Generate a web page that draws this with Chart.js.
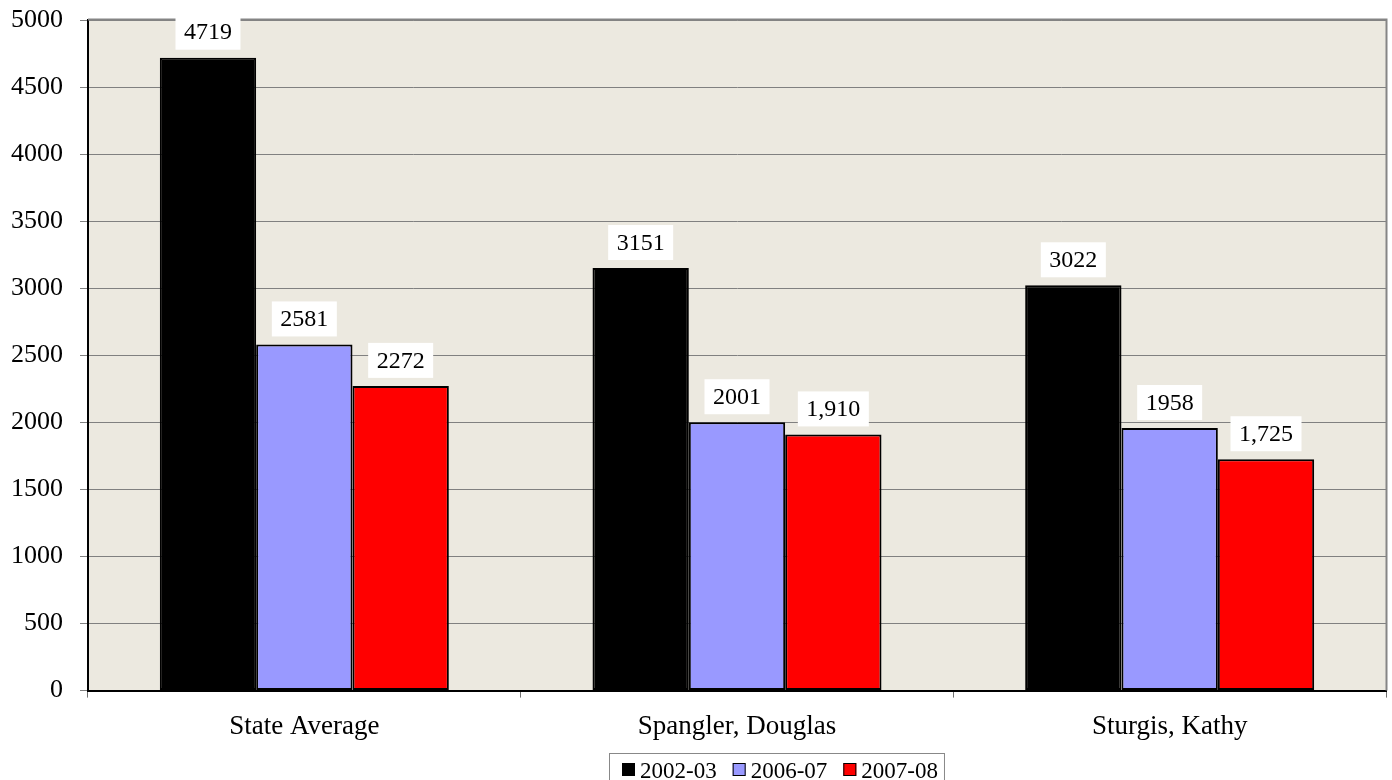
<!DOCTYPE html>
<html>
<head>
<meta charset="utf-8">
<title>Caseload by year</title>
<script src="https://cdn.jsdelivr.net/npm/chart.js@4/dist/chart.umd.min.js"></script>
<style>
    html, body { margin: 0; padding: 0; background: #fff; }
    #wrap { width: 1392px; height: 780px; }
</style>
</head>
<body>
<div id="wrap"><canvas id="yearChart" width="1392" height="780"></canvas></div>
<script>
const categories = ['State Average', 'Spangler, Douglas', 'Sturgis, Kathy'];
const seriesNames = ['2002-03', '2006-07', '2007-08'];
const seriesColors = ['#000000', '#9999FF', '#FF0000'];

const values0203 = [4719, 3151, 3022];
const values0607 = [2581, 2001, 1958];
const values0708 = [2272, 1910, 1725];

// which value labels print with a thousands separator
const commas0203 = [false, false, false];
const commas0607 = [false, false, false];
const commas0708 = [false, true, true];

const yTicks = [0, 500, 1000, 1500, 2000, 2500, 3000, 3500, 4000, 4500, 5000];

const serif = '"Liberation Serif", "Times New Roman", serif';

function makeDataset(i, values, commas) {
    return {
        label: seriesNames[i],
        data: values,
        commas: commas,
        backgroundColor: seriesColors[i],
        borderColor: '#000',
        borderWidth: 2,
        borderSkipped: false,
        barPercentage: 1,
        categoryPercentage: 0.668
    };
}

// plot background plus the grey frame on top and right
const plotFrame = {
    id: 'plotFrame',
    beforeDraw(chart) {
        const a = chart.chartArea;
        const ctx = chart.ctx;
        ctx.save();
        ctx.fillStyle = '#ECE9E0';
        ctx.fillRect(a.left, a.top, a.right - a.left, a.bottom - a.top);
        ctx.restore();
    },
    beforeDatasetsDraw(chart) {
        const a = chart.chartArea;
        const ctx = chart.ctx;
        ctx.save();
        ctx.strokeStyle = '#858585';
        ctx.lineWidth = 2;
        ctx.beginPath();
        ctx.moveTo(a.left, a.top - 0.5);
        ctx.lineTo(a.right + 0.5, a.top - 0.5);
        ctx.lineTo(a.right + 0.5, a.bottom);
        ctx.stroke();
        ctx.restore();
    }
};

// white boxed value labels above each bar
const valueBoxes = {
    id: 'valueBoxes',
    afterDatasetsDraw(chart) {
        const ctx = chart.ctx;
        ctx.save();
        ctx.font = '24px ' + serif;
        ctx.textAlign = 'center';
        ctx.textBaseline = 'middle';
        chart.data.datasets.forEach((ds, di) => {
            chart.getDatasetMeta(di).data.forEach((bar, i) => {
                const v = ds.data[i];
                const text = ds.commas[i] ? v.toLocaleString('en-US') : String(v);
                const w = ctx.measureText(text).width + 17;
                const h = 35;
                const bottom = bar.y - 8;
                ctx.fillStyle = '#fff';
                ctx.fillRect(bar.x - w / 2, bottom - h, w, h);
                ctx.fillStyle = '#000';
                ctx.fillText(text, bar.x, bottom - h / 2 + 1);
            });
        });
        ctx.restore();
    }
};

// boxed legend under the category labels
const boxLegend = {
    id: 'boxLegend',
    afterDraw(chart) {
        const ctx = chart.ctx;
        const left = 609, top = 753, h = 34;
        const mark = 13, markGap = 5, itemGap = 16;
        ctx.save();
        ctx.font = '23px ' + serif;
        ctx.textBaseline = 'alphabetic';
        let x = left + 13;
        const items = chart.data.datasets.map(ds => {
            const tw = ctx.measureText(ds.label).width;
            const it = { ds, x, tw };
            x += mark + markGap + tw + itemGap;
            return it;
        });
        const right = x - itemGap + 6;
        ctx.fillStyle = '#fff';
        ctx.fillRect(left, top, right - left, h);
        ctx.strokeStyle = '#888';
        ctx.lineWidth = 1;
        ctx.strokeRect(left + 0.5, top + 0.5, right - left, h);
        items.forEach(it => {
            ctx.fillStyle = it.ds.backgroundColor;
            ctx.fillRect(it.x, top + 10, mark, mark);
            ctx.strokeStyle = '#000';
            ctx.lineWidth = 1;
            ctx.strokeRect(it.x + 0.5, top + 10.5, mark - 1, mark - 1);
            ctx.fillStyle = '#000';
            ctx.fillText(it.ds.label, it.x + mark + markGap, top + 25);
        });
        ctx.restore();
    }
};

new Chart(document.getElementById('yearChart'), {
    type: 'bar',
    data: {
        labels: categories,
        datasets: [
            makeDataset(0, values0203, commas0203),
            makeDataset(1, values0607, commas0607),
            makeDataset(2, values0708, commas0708)
        ]
    },
    options: {
        responsive: false,
        animation: false,
        layout: { padding: { top: 20, right: 6, bottom: 24, left: 0 } },
        plugins: {
            legend: { display: false },
            tooltip: { enabled: false }
        },
        scales: {
            x: {
                grid: {
                    display: true,
                    drawOnChartArea: false,
                    drawTicks: true,
                    tickLength: 7,
                    color: '#707070',
                    offset: true
                },
                border: { color: '#000', width: 2 },
                ticks: {
                    color: '#000',
                    font: { family: serif, size: 27 },
                    padding: 13,
                    maxRotation: 0
                }
            },
            y: {
                min: 0,
                max: 5000,
                afterBuildTicks(scale) {
                    scale.ticks = yTicks.map(v => ({ value: v }));
                },
                afterFit(scale) {
                    scale.width = 88;
                    scale.paddingTop = 0;
                    scale.paddingBottom = 0;
                },
                grid: {
                    color: '#808080',
                    lineWidth: 1,
                    tickLength: 8,
                    tickColor: '#808080'
                },
                border: { color: '#000', width: 2 },
                ticks: {
                    color: '#000',
                    font: { family: serif, size: 26 },
                    padding: 17,
                    callback: v => String(v)
                }
            }
        }
    },
    plugins: [plotFrame, valueBoxes, boxLegend]
});
</script>
</body>
</html>
